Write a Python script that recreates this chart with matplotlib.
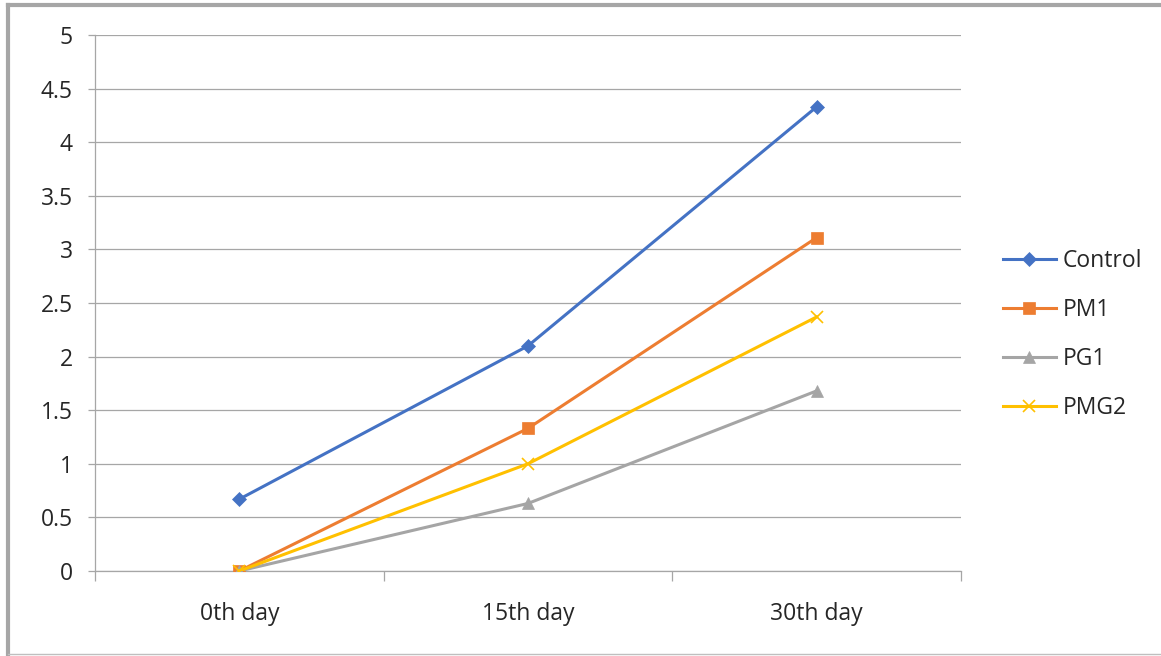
import matplotlib
matplotlib.use("Agg")
import matplotlib.pyplot as plt
from matplotlib.lines import Line2D
from matplotlib.ticker import FixedLocator, NullFormatter, FixedFormatter

# ------------ Data -----------------
days = ["0th day", "15th day", "30th day"]
control = [0.67, 2.10, 4.33]
pm1 = [0.0, 1.33, 3.11]
pg1 = [0.0, 0.63, 1.68]
pmg2 = [0.0, 1.00, 2.37]
yticks = [0, 0.5, 1, 1.5, 2, 2.5, 3, 3.5, 4, 4.5, 5]
# -----------------------------------

plt.rcParams['font.family'] = ['Open Sans', 'DejaVu Sans']
plt.rcParams['font.size'] = 16.5

fig = plt.figure(figsize=(11.61, 6.56), dpi=100)
ax = fig.add_axes([0.0818, 0.1296, 0.7459, 0.8170])

x = list(range(len(days)))
series = [
    ("Control", control, "#4472C4", "D", 7),
    ("PM1", pm1, "#ED7D31", "s", 8.5),
    ("PG1", pg1, "#A5A5A5", "^", 8.5),
    ("PMG2", pmg2, "#FFC000", "x", 9),
]
for name, vals, col, mk, ms in series:
    ax.plot(x, vals, color=col, lw=2.2, marker=mk, markersize=ms,
            markeredgewidth=1.2 if mk == "x" else 0.5, markeredgecolor=col,
            label=name, zorder=3)

ax.set_xlim(-0.5, len(days) - 0.5)
ax.set_ylim(0, 5)
ax.set_yticks(yticks)
ax.set_yticklabels([f"{v:g}" for v in yticks])
ax.grid(axis='y', color='#a6a6a6', lw=0.9)
ax.set_axisbelow(True)

# category boundaries get tick marks, centres get the labels
ax.xaxis.set_major_locator(FixedLocator([i - 0.5 for i in range(len(days) + 1)]))
ax.xaxis.set_major_formatter(NullFormatter())
ax.xaxis.set_minor_locator(FixedLocator(x))
ax.xaxis.set_minor_formatter(FixedFormatter(days))
ax.tick_params(axis='x', which='major', length=7, color='#a6a6a6', width=0.9)
ax.tick_params(axis='x', which='minor', length=0, pad=22, labelcolor='#262626')
ax.tick_params(axis='y', length=5, color='#a6a6a6', width=0.9, pad=11,
               labelcolor='#262626')

for s in ['top', 'right']:
    ax.spines[s].set_visible(False)
for s in ['left', 'bottom']:
    ax.spines[s].set_color('#a6a6a6')
    ax.spines[s].set_linewidth(0.9)

leg = ax.legend(loc='center left', bbox_to_anchor=(0.846, 0.49),
                bbox_transform=fig.transFigure, frameon=False,
                handlelength=2.3, handletextpad=0.3, labelspacing=1.1)
for t in leg.get_texts():
    t.set_color('#262626')

# chart frame
fig.add_artist(Line2D([0.0065, 1.0], [0.9924, 0.9924], color='#a6a6a6', lw=3,
                      transform=fig.transFigure))
fig.add_artist(Line2D([0.0069, 0.0069], [0.003, 0.9924], color='#a6a6a6', lw=3,
                      transform=fig.transFigure))
fig.add_artist(Line2D([0.0069, 1.0], [0.003, 0.003], color='#bfbfbf', lw=1,
                      transform=fig.transFigure))

fig.savefig("out.png", dpi=100)
